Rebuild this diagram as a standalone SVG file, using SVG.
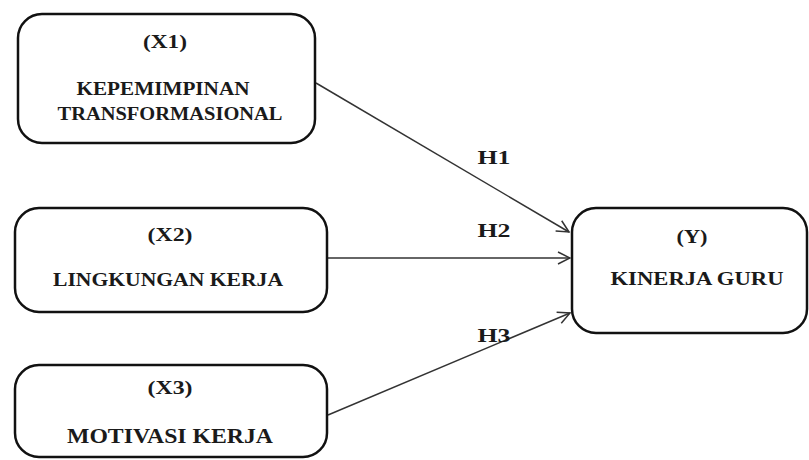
<svg xmlns="http://www.w3.org/2000/svg" width="809" height="460" viewBox="0 0 809 460">
<defs>
<style>
.box{fill:#fff;stroke:#111;stroke-width:2.5}
.t{font-family:"Liberation Serif","Times New Roman",serif;font-weight:bold;font-size:18px;fill:#1a1a1a;text-anchor:middle}
.edge{stroke:#333;stroke-width:1.5;fill:none;marker-end:url(#arr)}
</style>
<marker id="arr" viewBox="0 0 14 14" refX="13" refY="7" markerWidth="14" markerHeight="14" markerUnits="userSpaceOnUse" orient="auto">
<path d="M1,1 L13,7 L1,13" fill="none" stroke="#333" stroke-width="1.5"/>
</marker>
</defs>
<rect width="809" height="460" fill="#fff"/>
<g id="connectors">
<line class="edge" x1="316" y1="83" x2="569" y2="232"/>
<line class="edge" x1="328" y1="258" x2="570" y2="258"/>
<line class="edge" x1="328" y1="415" x2="570" y2="313"/>
<text class="t" x="494" y="164" textLength="33" lengthAdjust="spacingAndGlyphs">H1</text>
<text class="t" x="494" y="237" textLength="33" lengthAdjust="spacingAndGlyphs">H2</text>
<text class="t" x="494" y="342" textLength="33" lengthAdjust="spacingAndGlyphs">H3</text>
</g>
<g id="x1">
<rect class="box" x="18" y="14" width="297" height="129" rx="24"/>
<text class="t" x="165" y="48" textLength="44" lengthAdjust="spacingAndGlyphs">(X1)</text>
<text class="t" x="163" y="95" textLength="173" lengthAdjust="spacingAndGlyphs">KEPEMIMPINAN</text>
<text class="t" x="170" y="120" textLength="225" lengthAdjust="spacingAndGlyphs">TRANSFORMASIONAL</text>
</g>
<g id="x2">
<rect class="box" x="15" y="208" width="312" height="104" rx="24"/>
<text class="t" x="170" y="241" textLength="45" lengthAdjust="spacingAndGlyphs">(X2)</text>
<text class="t" x="168" y="286" textLength="230" lengthAdjust="spacingAndGlyphs">LINGKUNGAN KERJA</text>
</g>
<g id="x3">
<rect class="box" x="15" y="365" width="312" height="92" rx="24"/>
<text class="t" x="170" y="394" textLength="45" lengthAdjust="spacingAndGlyphs">(X3)</text>
<text class="t" x="170" y="443" textLength="206" lengthAdjust="spacingAndGlyphs" style="font-size:20px">MOTIVASI KERJA</text>
</g>
<g id="y">
<rect class="box" x="572" y="208" width="235" height="125" rx="24"/>
<text class="t" x="692" y="243" textLength="31" lengthAdjust="spacingAndGlyphs">(Y)</text>
<text class="t" x="697" y="285" textLength="173" lengthAdjust="spacingAndGlyphs">KINERJA GURU</text>
</g>
</svg>
